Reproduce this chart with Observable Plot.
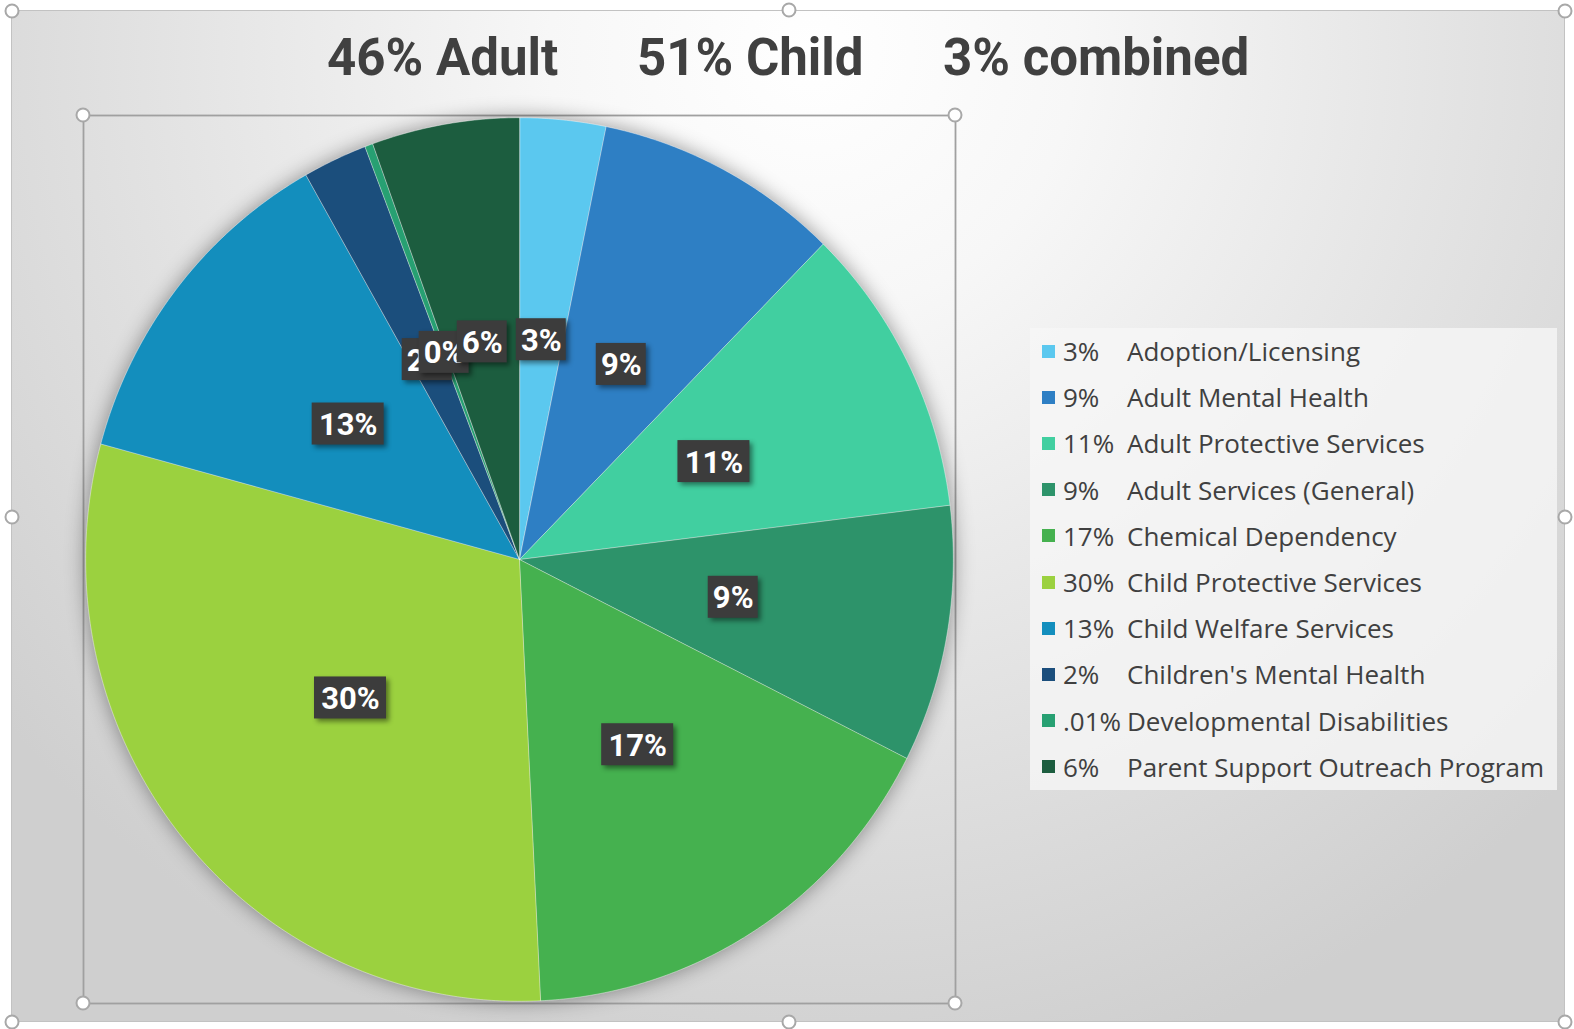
<!DOCTYPE html>
<html>
<head>
<meta charset="utf-8">
<script src="https://cdn.jsdelivr.net/npm/d3@7"></script>
<script src="https://cdn.jsdelivr.net/npm/@observablehq/plot@0.6"></script>
<style>
  html, body { margin: 0; padding: 0; background: #ffffff; }
  #wrap { position: relative; width: 1574px; height: 1029px; overflow: hidden; }
  #bg {
    position: absolute; left: 11px; top: 10px; width: 1552px; height: 1010px;
    border: 1.5px solid #c2c2c2;
    background: radial-gradient(ellipse 1050px 1050px at 800px 40px, #ffffff 0%, #f7f7f7 25%, #e4e4e4 60%, #cfcfcf 100%);
  }
  #chart { position: absolute; left: 0; top: 0; }
  .title { position: absolute; top: 32px; font-family: Roboto, sans-serif; font-weight: 700; font-size: 51px; line-height: 51px; color: #404040; white-space: pre; }
  #legend {
    position: absolute; left: 1030px; top: 328px; width: 527px; height: 462px;
    background: rgba(246,246,246,0.8);
    font-family: "Open Sans", sans-serif; font-size: 26px; color: #404040;
  }
  .row { height: 46.2px; display: flex; align-items: center; white-space: pre; }
  .sw { width: 13px; height: 13px; margin-left: 12px; flex: none; }
  .pc { margin-left: 8px; min-width: 64px; }
  .handle { position: absolute; width: 15px; height: 15px; border-radius: 50%; background: #fff; border: 2px solid #a8a8a8; transform: translate(-50%, -50%); box-sizing: border-box; }
</style>
</head>
<body>
<div id="wrap">
  <div id="bg"></div>
  <div id="chart"></div>
  <div id="titles"></div>
  <div id="legend"></div>
  <div id="handles"></div>
</div>
<script>
// ---- data ----
const categories = [
  "Adoption/Licensing", "Adult Mental Health", "Adult Protective Services",
  "Adult Services (General)", "Chemical Dependency", "Child Protective Services",
  "Child Welfare Services", "Children's Mental Health", "Developmental Disabilities",
  "Parent Support Outreach Program"
];
const values = [3.2, 9.15, 10.7, 9.4, 16.8, 30.0, 12.6, 2.4, 0.3, 5.5];
const sliceLabels = ["3%", "9%", "11%", "9%", "17%", "30%", "13%", "2%", "0%", "6%"];
const legendPct = ["3%", "9%", "11%", "9%", "17%", "30%", "13%", "2%", ".01%", "6%"];
const colors = ["#5bc8ef", "#2e7fc4", "#41cfa0", "#2d936a", "#45b14f", "#9bd13f", "#138ebd", "#1b4e7c", "#27a072", "#1c5d3f"];
const titleParts = ["46% Adult", "51% Child", "3% combined"];

// ---- build slices ----
const pie = d3.pie().sort(null).value(d => d.value).startAngle(0).endAngle(2 * Math.PI);
const rows = categories.map((name, i) => ({name, value: values[i], label: sliceLabels[i], i}));
const arcs = pie(rows);
const polyPts = [];
const labelPts = [];
arcs.forEach(a => {
  const name = a.data.name;
  polyPts.push({name, x: 0, y: 0});
  const n = Math.max(2, Math.ceil((a.endAngle - a.startAngle) / (Math.PI / 360)));
  for (let k = 0; k <= n; k++) {
    const t = a.startAngle + (a.endAngle - a.startAngle) * k / n;
    polyPts.push({name, x: Math.sin(t), y: Math.cos(t)});
  }
  const mid = (a.startAngle + a.endAngle) / 2;
  labelPts.push({name, label: a.data.label, x: 0.5 * Math.sin(mid), y: 0.5 * Math.cos(mid)});
});

const labelMarks = labelPts.flatMap(d => {
  const hw = d.label.length >= 3 ? 36 : 25;
  return [
    Plot.rect([d], {x1: "x", x2: "x", y1: "y", y2: "y", fill: "#3c3c3c",
      insetLeft: -hw, insetRight: -hw, insetTop: -21, insetBottom: -21}),
    Plot.text([d], {x: "x", y: "y", text: "label", fill: "white", fontSize: 31,
      fontWeight: 700, fontFamily: "Roboto, sans-serif", dy: 1})
  ];
});

const chart = Plot.plot({
  width: 1574,
  height: 1029,
  marginLeft: 83,
  marginRight: 619,
  marginTop: 115,
  marginBottom: 26,
  style: {background: "transparent", overflow: "visible"},
  x: {domain: [-1.005, 1.005], axis: null},
  y: {domain: [-1.005, 1.005], axis: null},
  color: {type: "ordinal", domain: categories, range: colors},
  marks: [
    Plot.frame({stroke: "#a0a0a0", strokeWidth: 1.8}),
    Plot.line(polyPts, {x: "x", y: "y", z: "name", fill: "name", stroke: "#ffffff",
      strokeWidth: 0.8, strokeOpacity: 0.5, curve: "linear-closed"}),
    ...labelMarks
  ]
});
document.getElementById("chart").appendChild(chart);
d3.select(chart).selectAll('g[aria-label="line"]').style("filter", "drop-shadow(0px 0px 10px rgba(0,0,0,0.4))");
d3.select(chart).selectAll('g[aria-label="rect"]').style("filter", "drop-shadow(3px 3px 2.5px rgba(0,0,0,0.45))");

// ---- title ----
const titleLefts = [327, 637, 943];
const tdiv = document.getElementById("titles");
titleParts.forEach((t, i) => {
  const s = document.createElement("div");
  s.className = "title";
  s.style.left = titleLefts[i] + "px";
  s.textContent = t;
  tdiv.appendChild(s);
});

// ---- legend ----
const leg = document.getElementById("legend");
categories.forEach((name, i) => {
  const r = document.createElement("div");
  r.className = "row";
  const sw = document.createElement("div");
  sw.className = "sw";
  sw.style.background = colors[i];
  const pc = document.createElement("span");
  pc.className = "pc";
  pc.textContent = legendPct[i];
  const nm = document.createElement("span");
  nm.textContent = name;
  r.append(sw, pc, nm);
  leg.appendChild(r);
});

// ---- selection handles ----
const handlePos = [[83,115],[955,115],[83,1003],[955,1003],[12,11],[789,10],[1565,11],[12,517],[1565,517],[789,1022],[12,1022],[1565,1022]];
const hdiv = document.getElementById("handles");
handlePos.forEach(([x, y]) => {
  const h = document.createElement("div");
  h.className = "handle";
  h.style.left = x + "px";
  h.style.top = y + "px";
  hdiv.appendChild(h);
});
</script>
</body>
</html>
